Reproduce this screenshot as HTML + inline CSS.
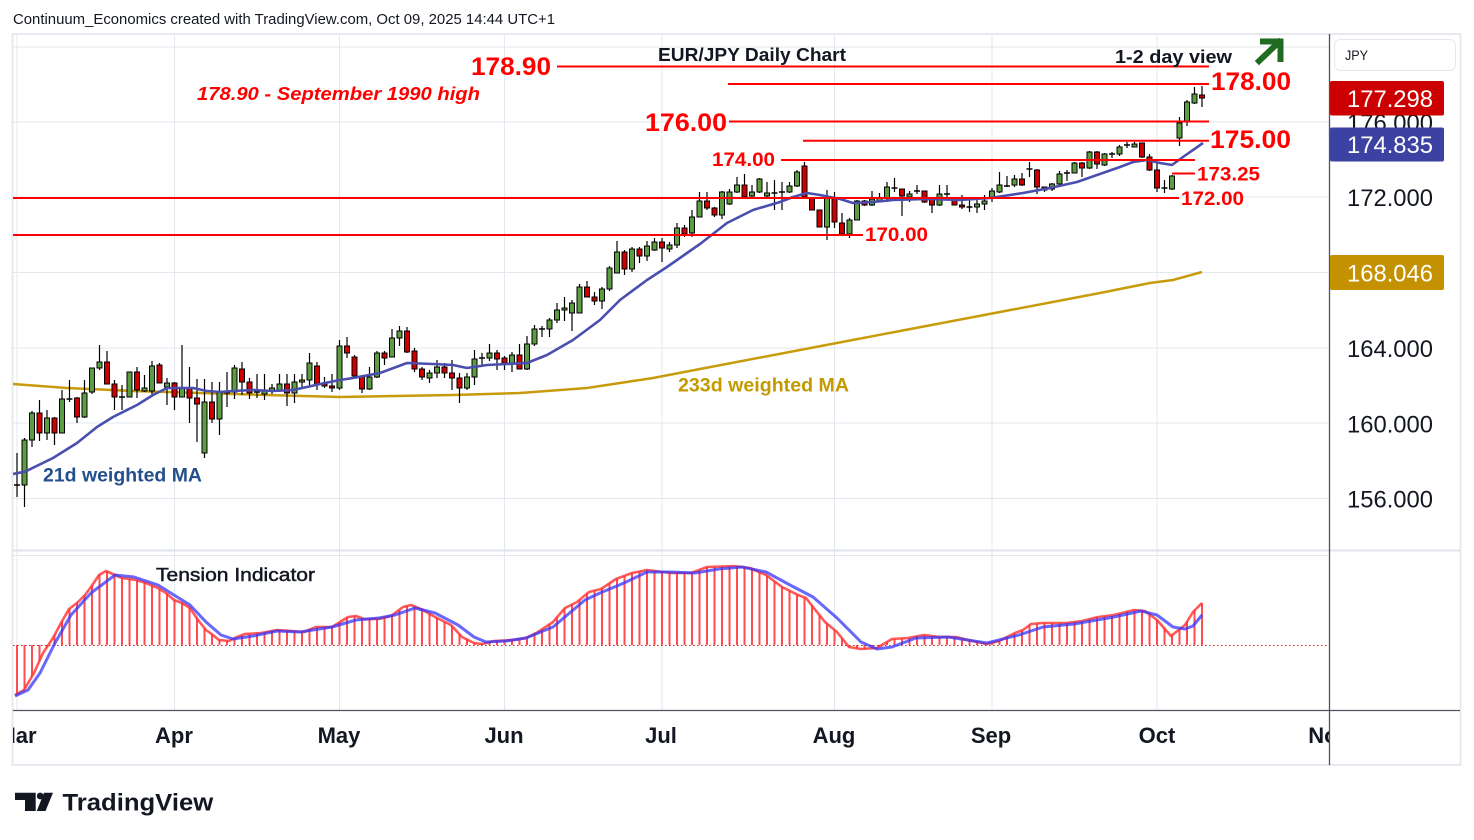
<!DOCTYPE html>
<html><head><meta charset="utf-8"><style>
html,body{margin:0;padding:0;background:#fff;}
svg{display:block;font-family:"Liberation Sans",sans-serif;}
</style></head><body>
<svg width="1474" height="840" viewBox="0 0 1474 840" xmlns="http://www.w3.org/2000/svg">
<defs>
<clipPath id="cm"><rect x="13" y="35" width="1316" height="515"/></clipPath>
<clipPath id="ci"><rect x="13" y="551" width="1316" height="159"/></clipPath>
<clipPath id="ct"><rect x="13" y="711" width="1316" height="54"/></clipPath>
<pattern id="hp" patternUnits="userSpaceOnUse" x="16" y="0" width="7.5" height="20"><rect x="0" y="0" width="2" height="20" fill="#ff4d4d"/></pattern>
</defs>
<rect width="1474" height="840" fill="#fff"/>
<text x="13" y="24" font-size="14.5" fill="#131722" textLength="542" lengthAdjust="spacingAndGlyphs">Continuum_Economics created with TradingView.com, Oct 09, 2025 14:44 UTC+1</text>
<rect x="12.5" y="34" width="1448" height="731" fill="none" stroke="#e6e9f0" stroke-width="2"/>
<!-- gridlines -->
<g stroke="#e3e8ef" stroke-width="1">
<path d="M13 47H1329M13 122H1329M13 197H1329M13 272.5H1329M13 348H1329M13 423H1329M13 498.5H1329M13 555.5H1329"/>
<path d="M17 35V710M174.5 35V710M339.5 35V710M504.5 35V710M662 35V710M834.5 35V710M992 35V710M1157 35V710"/>
</g>
<g clip-path="url(#cm)">
<!-- 233 MA -->
<polyline fill="none" stroke="#c89b0a" stroke-width="2.5" points="13,384 67,388 133,391 200,393 267,395 340,397 453,395 520,393 587,388 653,378 700,369 800,350 900,331 1000,312 1100,293 1150,283 1173,280 1202,272"/>
<!-- wicks -->
<path stroke="#000" stroke-width="1.2" fill="none" d="M17 453V497 M24.5 438V507 M32 411V447 M39.5 400V441 M47 410V440 M54.5 417V445 M62 390V433 M69.5 380V402 M77 397V423 M84.5 380V418 M92 368V394 M99.5 345V370 M107 351V384 M114.5 380V410 M122 385V410 M129.5 372V397 M137 367V398 M144.5 375V392 M152 361V397 M159.5 363V383 M167 378V405 M174.5 382V410 M182 345V397 M189.5 367V423 M197 379V442 M204.5 379V458 M212 382V423 M219.5 382V435 M227 372V407 M234.5 365V399 M242 362V395 M249.5 378V399 M257 374V398 M264.5 374V400 M272 384V394 M279.5 374V392 M287 374V406 M294.5 374V403 M302 374V387 M309.5 353V385 M317 362V390 M324.5 377V388 M332 374V392 M339.5 340V390 M347 337V358 M354.5 355V377 M362 375V393 M369.5 367V390 M377 351V378 M384.5 351V365 M392 329V357 M399.5 326V346 M407 327V353 M414.5 348V372 M422 367V380 M429.5 370V383 M437 360V378 M444.5 363V378 M452 360V390 M459.5 373V403 M467 373V390 M474.5 350V385 M482 353V367 M489.5 344V361 M497 350V370 M504.5 356V370 M512 352V372 M519.5 344V369 M527 336V370 M534.5 325V346 M542 326V337 M549.5 318V337 M557 303V323 M564.5 297V321 M572 300V331 M579.5 284V313 M587 281V297 M594.5 292V305 M602 287V309 M609.5 266V291 M617 241V273 M624.5 250V275 M632 247V272 M639.5 247V263 M647 241V261 M654.5 238V251 M662 238V262 M669.5 242V252 M677 223V248 M684.5 225V237 M692 210V237 M699.5 192V217 M707 192V210 M714.5 207V217 M722 191V219 M729.5 189V205 M737 177V193 M744.5 174V198 M752 185V197 M759.5 178V193 M767 182V197 M774.5 180V210 M782 182V210 M789.5 182V193 M797 170V187 M804.5 162V197 M812 197V210 M819.5 210V227 M827 190V240 M834.5 192V228 M842 213V236 M849.5 218V238 M857 200V220 M864.5 200V206 M872 191V206 M879.5 193V202 M887 182V200 M894.5 178V192 M902 189V216 M909.5 191V202 M917 185V194 M924.5 191V203 M932 198V213 M939.5 185V206 M947 185V198 M954.5 197V205 M962 195V209 M969.5 200V212 M977 200V213 M984.5 195V210 M992 188V202 M999.5 172V193 M1007 176V187 M1014.5 175V187 M1022 173V186 M1029.5 162V177 M1037 169V194 M1044.5 187V192 M1052 183V191 M1059.5 171V185 M1067 170V181 M1074.5 162V173 M1082 162V177 M1089.5 151V169 M1097 151V169 M1104.5 153V166 M1112 152V158 M1119.5 145V156 M1127 142V148 M1134.5 142V147 M1142 143V158 M1149.5 154V171 M1157 162V192 M1164.5 180V193 M1172 175V190 M1179.5 117V146 M1187 100V126 M1194.5 87V104 M1202 86V107"/>
<!-- doji ticks -->
<path stroke="#000" stroke-width="1.6" fill="none" d="M14 485H20 M66.5 399H72.5 M119 397H125 M254 392H260 M479 358H485 M539 329H545 M771.5 193H777.5 M779 192H785 M891.5 188H897.5 M914 191H920 M944 194H950 M966.5 207H972.5 M1004 186H1010 M1026.5 169H1032.5 M1064 173H1070 M1109 154H1115 M1124 145H1130 M1161.5 188H1167.5"/>
<!-- green bodies -->
<g fill="#5c9d41" stroke="#000" stroke-width="1">
<rect x="22" y="440" width="5" height="45"/><rect x="29.5" y="413" width="5" height="27"/><rect x="44.5" y="418" width="5" height="15"/><rect x="59.5" y="399" width="5" height="34"/><rect x="82" y="393" width="5" height="24"/><rect x="89.5" y="368" width="5" height="24"/><rect x="97" y="362" width="5" height="6"/><rect x="127" y="372" width="5" height="25"/><rect x="142" y="388" width="5" height="3"/><rect x="149.5" y="366" width="5" height="25"/><rect x="164.5" y="383" width="5" height="4"/><rect x="179.5" y="388" width="5" height="9"/><rect x="202" y="402" width="5" height="51"/><rect x="217" y="392" width="5" height="27"/><rect x="224.5" y="391" width="5" height="2"/><rect x="232" y="368" width="5" height="24"/><rect x="262" y="391" width="5" height="3"/><rect x="269.5" y="388" width="5" height="3"/><rect x="277" y="384" width="5" height="7"/><rect x="292" y="382" width="5" height="11"/><rect x="299.5" y="380" width="5" height="2"/><rect x="307" y="363" width="5" height="17"/><rect x="337" y="346" width="5" height="42"/><rect x="367" y="377" width="5" height="12"/><rect x="374.5" y="353" width="5" height="24"/><rect x="389.5" y="338" width="5" height="19"/><rect x="397" y="331" width="5" height="7"/><rect x="427" y="373" width="5" height="5"/><rect x="434.5" y="367" width="5" height="6"/><rect x="464.5" y="377" width="5" height="11"/><rect x="472" y="359" width="5" height="18"/><rect x="487" y="353" width="5" height="5"/><rect x="509.5" y="355" width="5" height="8"/><rect x="524.5" y="344" width="5" height="25"/><rect x="532" y="329" width="5" height="15"/><rect x="547" y="320" width="5" height="9"/><rect x="554.5" y="310" width="5" height="10"/><rect x="562" y="308" width="5" height="2"/><rect x="569.5" y="303" width="5" height="10"/><rect x="577" y="287" width="5" height="26"/><rect x="599.5" y="289" width="5" height="12"/><rect x="607" y="268" width="5" height="21"/><rect x="614.5" y="252" width="5" height="21"/><rect x="629.5" y="249" width="5" height="20"/><rect x="644.5" y="246" width="5" height="10"/><rect x="652" y="242" width="5" height="8"/><rect x="667" y="245" width="5" height="4"/><rect x="674.5" y="228" width="5" height="17"/><rect x="689.5" y="217" width="5" height="16"/><rect x="697" y="201" width="5" height="16"/><rect x="719.5" y="192" width="5" height="23"/><rect x="727" y="192" width="5" height="12"/><rect x="734.5" y="185" width="5" height="7"/><rect x="749.5" y="192" width="5" height="4"/><rect x="757" y="179" width="5" height="13"/><rect x="764.5" y="193" width="5" height="3"/><rect x="787" y="186" width="5" height="6"/><rect x="794.5" y="172" width="5" height="14"/><rect x="824.5" y="198" width="5" height="29"/><rect x="847" y="220" width="5" height="14"/><rect x="854.5" y="201" width="5" height="19"/><rect x="869.5" y="199" width="5" height="6"/><rect x="877" y="198" width="5" height="4"/><rect x="884.5" y="187" width="5" height="11"/><rect x="907" y="194" width="5" height="3"/><rect x="937" y="194" width="5" height="11"/><rect x="974.5" y="204" width="5" height="3"/><rect x="982" y="201" width="5" height="3"/><rect x="989.5" y="191" width="5" height="6"/><rect x="997" y="185" width="5" height="7"/><rect x="1012" y="179" width="5" height="6"/><rect x="1049.5" y="184" width="5" height="5"/><rect x="1057" y="174" width="5" height="10"/><rect x="1072" y="163" width="5" height="10"/><rect x="1087" y="152" width="5" height="16"/><rect x="1102" y="154" width="5" height="11"/><rect x="1117" y="147" width="5" height="7"/><rect x="1132" y="144" width="5" height="3"/><rect x="1169.5" y="176" width="5" height="13"/><rect x="1177" y="123" width="5" height="15"/><rect x="1184.5" y="102" width="5" height="20"/><rect x="1192" y="94" width="5" height="9"/>
</g>
<!-- red bodies -->
<g fill="#cc0000" stroke="#000" stroke-width="1">
<rect x="37" y="413" width="5" height="20"/><rect x="52" y="418" width="5" height="15"/><rect x="74.5" y="398" width="5" height="19"/><rect x="104.5" y="362" width="5" height="22"/><rect x="112" y="384" width="5" height="13"/><rect x="134.5" y="372" width="5" height="18"/><rect x="157" y="365" width="5" height="18"/><rect x="172" y="383" width="5" height="14"/><rect x="187" y="388" width="5" height="10"/><rect x="194.5" y="398" width="5" height="6"/><rect x="209.5" y="402" width="5" height="17"/><rect x="239.5" y="369" width="5" height="13"/><rect x="247" y="382" width="5" height="11"/><rect x="284.5" y="384" width="5" height="9"/><rect x="314.5" y="366" width="5" height="18"/><rect x="322" y="384" width="5" height="2"/><rect x="329.5" y="386" width="5" height="2"/><rect x="344.5" y="346" width="5" height="7"/><rect x="352" y="357" width="5" height="19"/><rect x="359.5" y="376" width="5" height="13"/><rect x="382" y="353" width="5" height="5"/><rect x="404.5" y="331" width="5" height="21"/><rect x="412" y="351" width="5" height="18"/><rect x="419.5" y="369" width="5" height="8"/><rect x="442" y="367" width="5" height="6"/><rect x="449.5" y="373" width="5" height="5"/><rect x="457" y="378" width="5" height="10"/><rect x="494.5" y="353" width="5" height="6"/><rect x="502" y="358" width="5" height="5"/><rect x="517" y="355" width="5" height="14"/><rect x="584.5" y="287" width="5" height="10"/><rect x="592" y="297" width="5" height="4"/><rect x="622" y="252" width="5" height="17"/><rect x="637" y="249" width="5" height="7"/><rect x="659.5" y="242" width="5" height="6"/><rect x="682" y="228" width="5" height="6"/><rect x="704.5" y="201" width="5" height="7"/><rect x="712" y="208" width="5" height="7"/><rect x="742" y="185" width="5" height="12"/><rect x="802" y="166" width="5" height="31"/><rect x="809.5" y="198" width="5" height="12"/><rect x="817" y="210" width="5" height="17"/><rect x="832" y="198" width="5" height="24"/><rect x="839.5" y="223" width="5" height="11"/><rect x="862" y="201" width="5" height="4"/><rect x="899.5" y="189" width="5" height="7"/><rect x="922" y="191" width="5" height="11"/><rect x="929.5" y="198" width="5" height="7"/><rect x="952" y="198" width="5" height="7"/><rect x="959.5" y="205" width="5" height="2"/><rect x="1019.5" y="179" width="5" height="6"/><rect x="1034.5" y="170" width="5" height="17"/><rect x="1042" y="187" width="5" height="3"/><rect x="1079.5" y="163" width="5" height="5"/><rect x="1094.5" y="152" width="5" height="12"/><rect x="1139.5" y="143" width="5" height="14"/><rect x="1147" y="157" width="5" height="13"/><rect x="1154.5" y="170" width="5" height="18"/><rect x="1199.5" y="95" width="5" height="3"/>
</g>
<!-- 21d MA -->
<polyline fill="none" stroke="#4a4eae" stroke-width="2.6" stroke-linejoin="round" points="13,474 25,471.7 53,458 77,443 97,427 113,417 137,405 153,395 167,388 180,388 193,388 207,391 220,392 233,391 253,390 273,391 293,390 307,387 320,384 340,380 353,378 380,373 407,363 433,364 453,365 467,368 487,365 507,364 527,363 547,355 573,340 600,320 620,300 647,280 667,267 687,253 700,244 727,223 753,210 780,202 793,197 807,193 820,195 840,199 853,203 873,202 893,200 927,199 960,200 990,198 1023,193 1050,188 1077,182 1097,175 1120,167 1133,162 1147,160 1160,163 1172,165 1183,157 1203,143"/>
<!-- level lines -->
<g stroke="#ff0000" stroke-width="2">
<path d="M557 66.5H1209M728 84H1209M729 121.5H1209M803 140.7H1209M781 160H1195M1172 173.5H1195M13 198H1179M13 235H863"/>
</g>
</g>
<!-- level labels -->
<g fill="#ff0000" font-weight="bold">
<text x="471" y="75" font-size="25" textLength="80" lengthAdjust="spacingAndGlyphs">178.90</text>
<text x="1211" y="90" font-size="25" textLength="80" lengthAdjust="spacingAndGlyphs">178.00</text>
<text x="645" y="131" font-size="25" textLength="82" lengthAdjust="spacingAndGlyphs">176.00</text>
<text x="1210" y="148" font-size="25" textLength="81" lengthAdjust="spacingAndGlyphs">175.00</text>
<text x="712" y="166" font-size="19" textLength="63" lengthAdjust="spacingAndGlyphs">174.00</text>
<text x="1197" y="180.5" font-size="19" textLength="63" lengthAdjust="spacingAndGlyphs">173.25</text>
<text x="1181" y="205" font-size="19" textLength="63" lengthAdjust="spacingAndGlyphs">172.00</text>
<text x="865" y="241" font-size="19" textLength="63" lengthAdjust="spacingAndGlyphs">170.00</text>
<text x="197" y="100" font-size="18" font-style="italic" textLength="283" lengthAdjust="spacingAndGlyphs">178.90 - September 1990 high</text>
</g>
<text x="658" y="61" font-size="18" font-weight="bold" fill="#131722" textLength="188" lengthAdjust="spacingAndGlyphs">EUR/JPY Daily Chart</text>
<text x="1115" y="63" font-size="18" font-weight="bold" fill="#131722" textLength="117" lengthAdjust="spacingAndGlyphs">1-2 day view</text>
<g stroke="#1f6b22" stroke-width="6" fill="none" stroke-linecap="square">
<path d="M1259 61L1279 42"/>
<path d="M1263 41.5H1280.5V59"/>
</g>
<text x="43" y="481.5" font-size="19" font-weight="bold" fill="#244f8c" textLength="159" lengthAdjust="spacingAndGlyphs">21d weighted MA</text>
<text x="678" y="391.5" font-size="19" font-weight="bold" fill="#c49a00" textLength="171" lengthAdjust="spacingAndGlyphs">233d weighted MA</text>
<!-- indicator -->
<g clip-path="url(#ci)">
<polygon fill="url(#hp)" points="15,645 15,695 24,690 34,673 43,653 53,638 61,623 69,609 77,603 85,595 91,587 99,575 106,571 115,575 122,578 136,580 146,583 158,588 166,593 174,600 182,603 190,608 198,620 206,630 213,635 219,640 229,641 237,637 245,634 261,633 277,630 292,631 304,632 316,627 332,627 348,617 356,616 364,619 379,619 391,616 403,607 411,605 423,610 435,617 451,625 462,637 474,643 482,644 494,641 514,640 526,638 538,632 553,622 565,608 577,602 589,592 601,589 616,579 632,573 647,570 671,573 691,573 707,567 734,566 750,568 766,575 782,587 798,595 806,598 813,607 825,622 837,632 849,647 861,649 877,648 892,639 908,638 924,635 940,637 956,637 972,641 987,644 999,641 1015,633 1023,630 1031,624 1043,623 1066,623 1082,621 1098,617 1114,615 1134,610 1145,611 1157,620 1171,636 1185,625 1193,612 1202,603 1203.5,603 1203.5,645"/>
<path d="M13 645.5H1329" stroke="#ee1111" stroke-width="1" stroke-dasharray="1.5,2.5"/>
<polyline fill="none" stroke="#ff3030" stroke-opacity="0.8" stroke-width="2.6" stroke-linejoin="round" points="15,695 24,690 34,673 43,653 53,638 61,623 69,609 77,603 85,595 91,587 99,575 106,571 115,575 122,578 136,580 146,583 158,588 166,593 174,600 182,603 190,608 198,620 206,630 213,635 219,640 229,641 237,637 245,634 261,633 277,630 292,631 304,632 316,627 332,627 348,617 356,616 364,619 379,619 391,616 403,607 411,605 423,610 435,617 451,625 462,637 474,643 482,644 494,641 514,640 526,638 538,632 553,622 565,608 577,602 589,592 601,589 616,579 632,573 647,570 671,573 691,573 707,567 734,566 750,568 766,575 782,587 798,595 806,598 813,607 825,622 837,632 849,647 861,649 877,648 892,639 908,638 924,635 940,637 956,637 972,641 987,644 999,641 1015,633 1023,630 1031,624 1043,623 1066,623 1082,621 1098,617 1114,615 1134,610 1145,611 1157,620 1171,636 1185,625 1193,612 1202,603"/>
<polyline fill="none" stroke="#3535ff" stroke-opacity="0.75" stroke-width="3" stroke-linejoin="round" points="15,696 28,690 40,673 55,643 71,615 91,593 115,575 134,577 158,585 174,595 190,605 206,622 221,635 233,639 253,636 277,631 300,632 332,627 356,620 379,618 395,615 415,608 435,613 458,625 474,637 486,642 506,641 526,638 553,627 585,600 600,593 624,583 647,572 671,572 695,573 719,569 742,567 766,572 790,585 813,597 837,618 861,642 877,649 892,647 916,638 948,637 987,643 1019,635 1043,627 1074,624 1114,617 1141,611 1157,615 1173,627 1185,629 1193,626 1202,615"/>
</g>
<text x="156" y="581" font-size="18" fill="#131722" stroke="#131722" stroke-width="0.45" textLength="159" lengthAdjust="spacingAndGlyphs">Tension Indicator</text>
<!-- pane separators and axes -->
<path d="M13 550.5H1460" stroke="#dfe3ea" stroke-width="2"/>
<path d="M13 710.5H1460" stroke="#50535e" stroke-width="1.3"/>
<path d="M1329.5 34V765" stroke="#50535e" stroke-width="1.3"/>
<!-- price axis -->
<rect x="1334.5" y="39.5" width="121" height="31" rx="6" fill="#fff" stroke="#e4e7ed" stroke-width="1"/>
<text x="1345" y="60" font-size="14" fill="#131722" textLength="23" lengthAdjust="spacingAndGlyphs">JPY</text>
<g font-size="24" fill="#131722">
<text x="1347" y="131" textLength="86" lengthAdjust="spacingAndGlyphs">176.000</text>
<text x="1347" y="206" textLength="86" lengthAdjust="spacingAndGlyphs">172.000</text>
<text x="1347" y="357" textLength="86" lengthAdjust="spacingAndGlyphs">164.000</text>
<text x="1347" y="432.5" textLength="86" lengthAdjust="spacingAndGlyphs">160.000</text>
<text x="1347" y="507.5" textLength="86" lengthAdjust="spacingAndGlyphs">156.000</text>
</g>
<rect x="1330" y="81" width="114" height="34.5" rx="2" fill="#cc0000"/>
<rect x="1330" y="127.5" width="114" height="34" rx="2" fill="#3c42a2"/>
<rect x="1330" y="255" width="114" height="35" rx="2" fill="#c49100"/>
<g font-size="24" fill="#fff">
<text x="1347" y="107" textLength="86" lengthAdjust="spacingAndGlyphs">177.298</text>
<text x="1347" y="153" textLength="86" lengthAdjust="spacingAndGlyphs">174.835</text>
<text x="1347" y="281.5" textLength="86" lengthAdjust="spacingAndGlyphs">168.046</text>
</g>
<!-- time axis -->
<g clip-path="url(#ct)" font-size="22" font-weight="bold" fill="#131722" text-anchor="middle">
<text x="17" y="743">Mar</text>
<text x="174" y="743">Apr</text>
<text x="339" y="743">May</text>
<text x="504" y="743">Jun</text>
<text x="661" y="743">Jul</text>
<text x="834" y="743">Aug</text>
<text x="991" y="743">Sep</text>
<text x="1157" y="743">Oct</text>
<text x="1329" y="743">Nov</text>
</g>
<!-- TradingView logo -->
<g fill="#131722">
<path d="M15 792.7H35.7V811H25V800H15Z"/>
<circle cx="40.2" cy="796" r="3.4"/>
<path d="M44 792.7H53L45.5 811H36.8Z"/>
</g>
<text x="62.5" y="810.7" font-size="24" font-weight="bold" fill="#131722" textLength="150.7" lengthAdjust="spacingAndGlyphs">TradingView</text>
</svg>
</body></html>
